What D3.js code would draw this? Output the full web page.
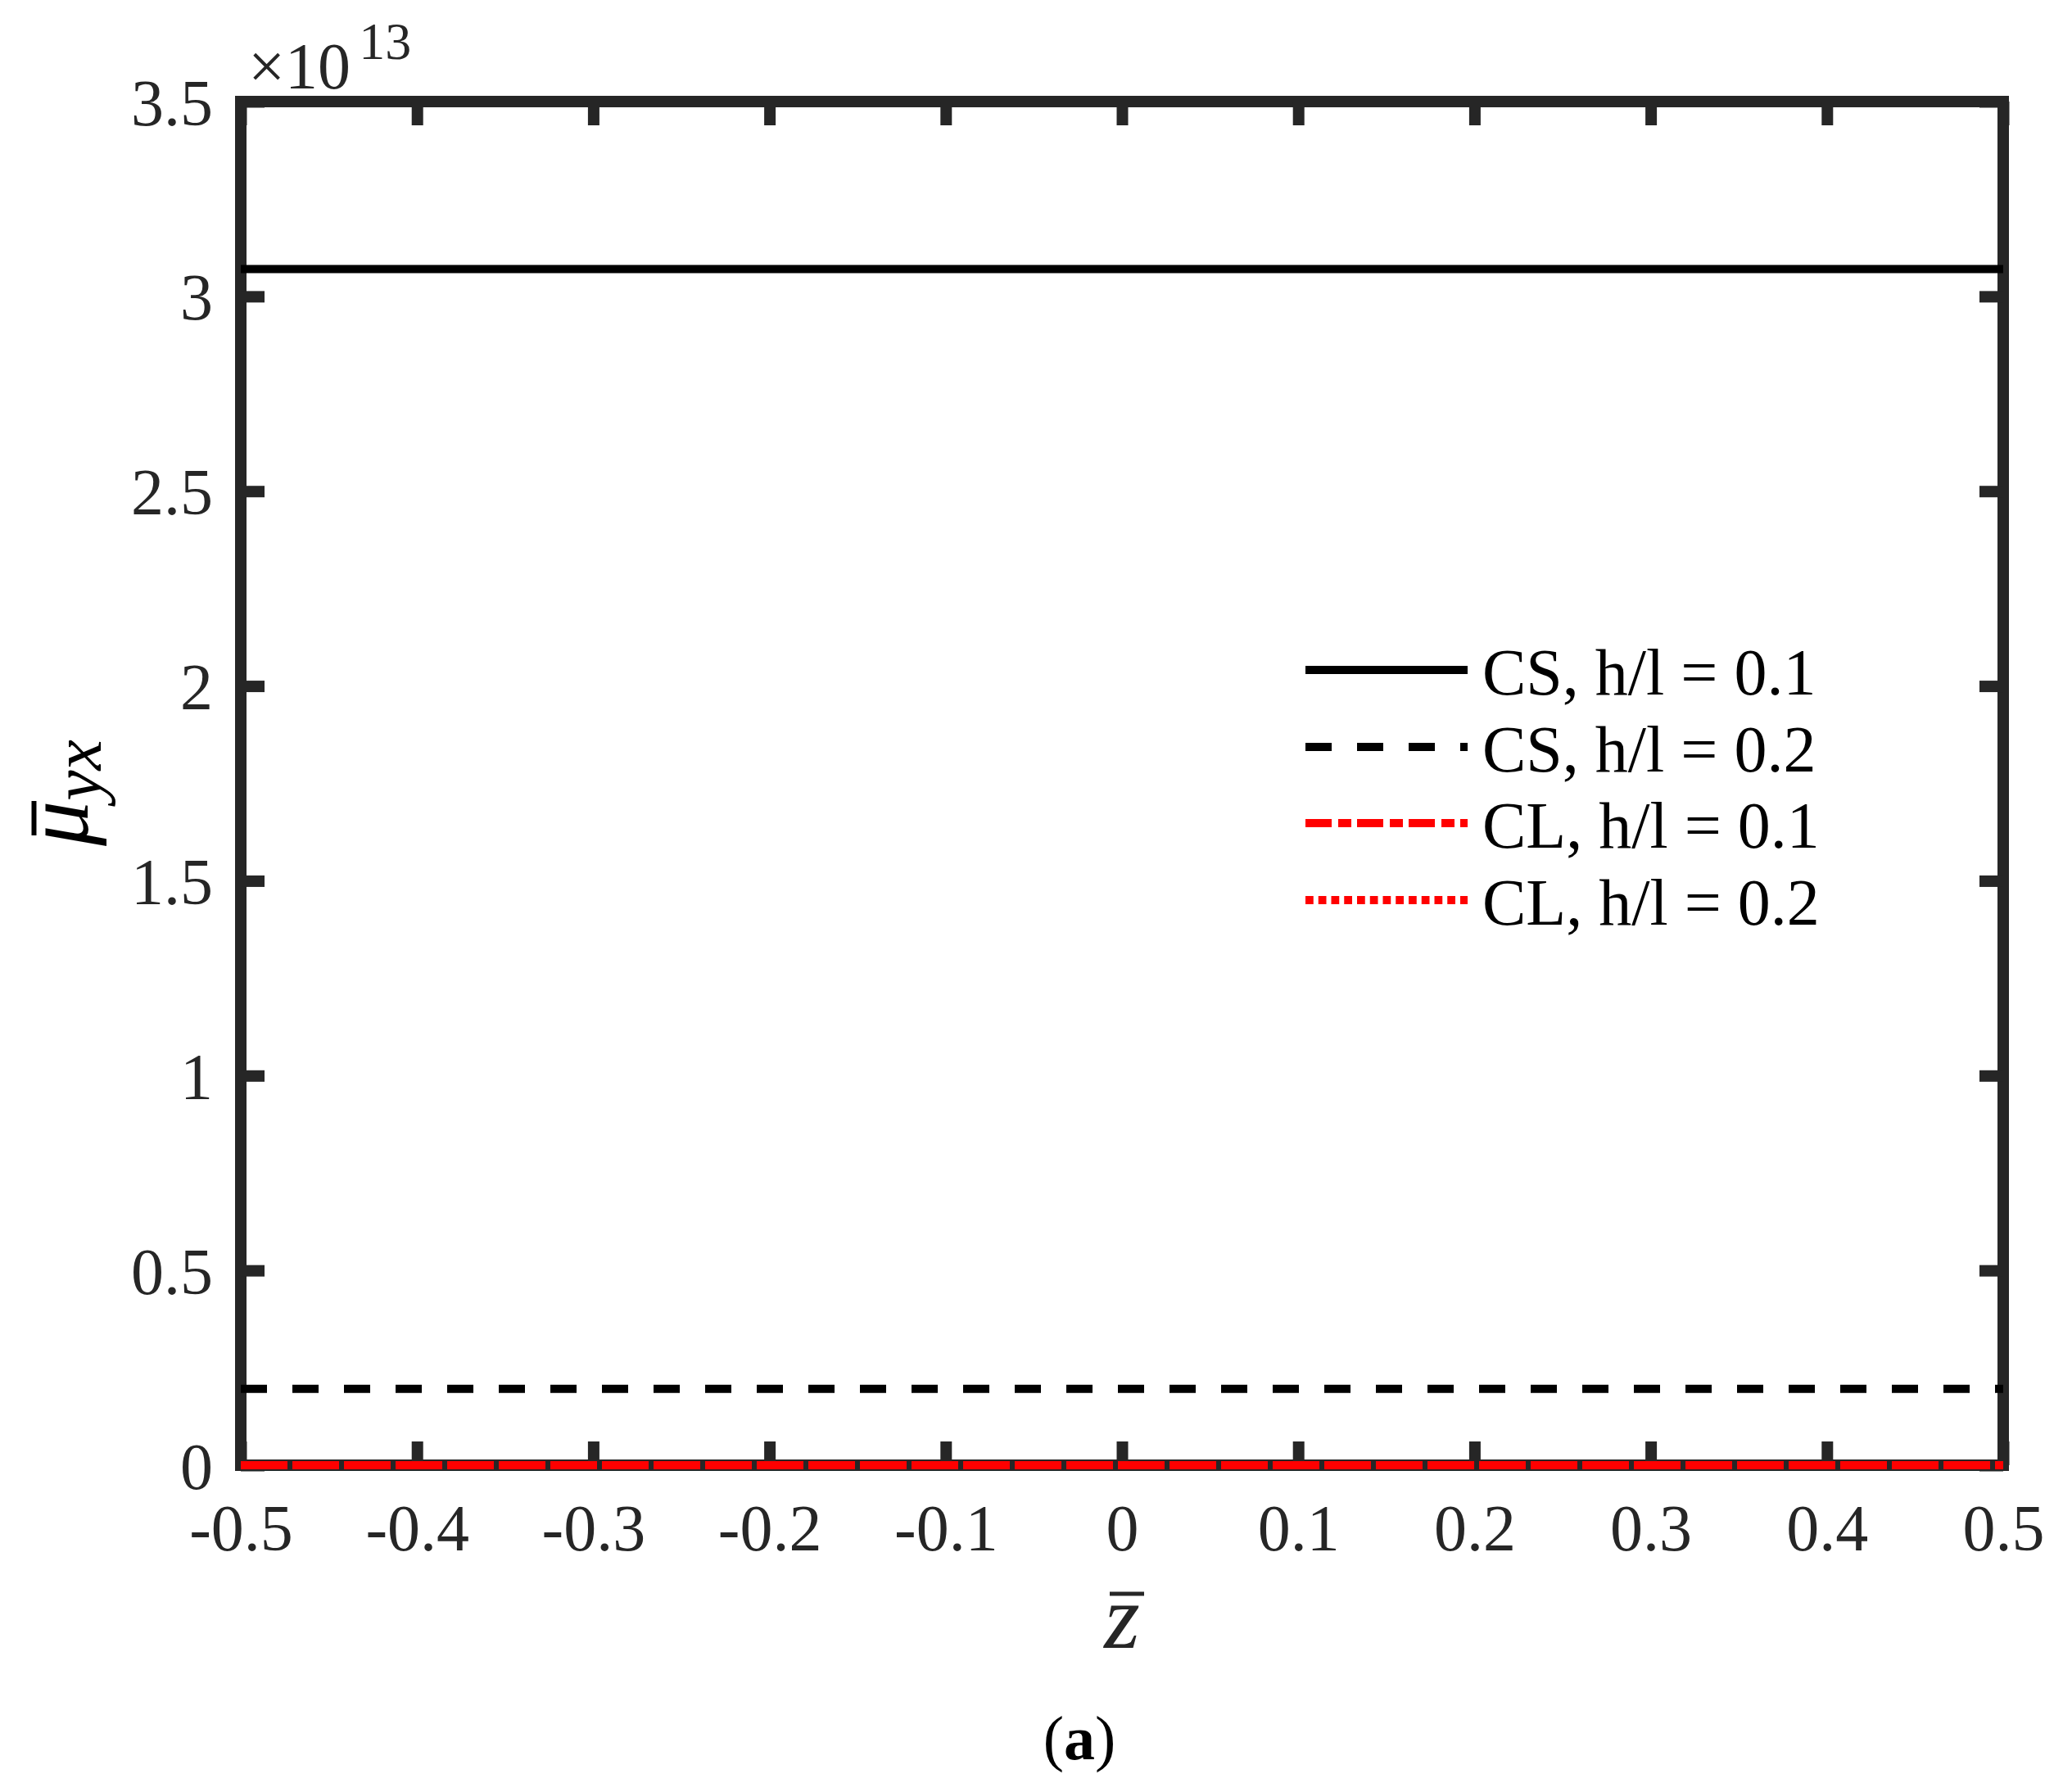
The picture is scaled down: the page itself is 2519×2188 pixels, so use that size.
<!DOCTYPE html>
<html>
<head>
<meta charset="utf-8">
<script src="https://cdn.jsdelivr.net/npm/d3@7"></script>
<style>
  html, body { margin: 0; padding: 0; background: #fff; }
  svg { display: block; }
  text { font-family: "Liberation Serif", "Times New Roman", serif; }
</style>
</head>
<body>
<script>
// ---- data ----
const zValues = [-0.5, -0.4, -0.3, -0.2, -0.1, 0, 0.1, 0.2, 0.3, 0.4, 0.5];
const csH01 = [3.07, 3.07, 3.07, 3.07, 3.07, 3.07, 3.07, 3.07, 3.07, 3.07, 3.07]; // x 1e13
const csH02 = [0.196, 0.196, 0.196, 0.196, 0.196, 0.196, 0.196, 0.196, 0.196, 0.196, 0.196];
const clH01 = [0, 0, 0, 0, 0, 0, 0, 0, 0, 0, 0];
const clH02 = [0, 0, 0, 0, 0, 0, 0, 0, 0, 0, 0];
const seriesNames = ["CS, h/l = 0.1", "CS, h/l = 0.2", "CL, h/l = 0.1", "CL, h/l = 0.2"];
const xTickValues = [-0.5, -0.4, -0.3, -0.2, -0.1, 0, 0.1, 0.2, 0.3, 0.4, 0.5];
const xTickLabels = ["-0.5", "-0.4", "-0.3", "-0.2", "-0.1", "0", "0.1", "0.2", "0.3", "0.4", "0.5"];
const yTickValues = [0, 0.5, 1, 1.5, 2, 2.5, 3, 3.5];
const yTickLabels = ["0", "0.5", "1", "1.5", "2", "2.5", "3", "3.5"];
const exponentLabel = "13";

// ---- styles ----
const seriesStyles = [
  { color: "#000000", dash: null },
  { color: "#000000", dash: "32,31" },
  { color: "#ff0000", dash: "32,8,16,7" },
  { color: "#ff0000", dash: "9.75,6" }
];
const axisColor = "#262626";

const W = 2519, H = 2188;
const L = 294, R = 2446, T = 124, B = 1789;

const svg = d3.select("body").append("svg").attr("width", W).attr("height", H);

const x = d3.scaleLinear().domain([-0.5, 0.5]).range([L, R]);
const y = d3.scaleLinear().domain([0, 3.5]).range([B, T]);

// box
svg.append("rect")
  .attr("x", L).attr("y", T).attr("width", R - L).attr("height", B - T)
  .attr("fill", "none").attr("stroke", axisColor).attr("stroke-width", 14);

const TICK = 29;
function styleAxis(g) {
  g.select(".domain").remove();
  g.selectAll(".tick line").attr("stroke", axisColor).attr("stroke-width", 14);
  g.selectAll(".tick text").attr("fill", axisColor).attr("font-size", 80)
    .attr("font-family", "Liberation Serif, Times New Roman, serif");
}

// bottom
const gB = svg.append("g").attr("transform", `translate(0,${B})`)
  .call(d3.axisBottom(x).tickValues(xTickValues).tickSize(-TICK)
    .tickFormat((d, i) => xTickLabels[i]));
styleAxis(gB);
gB.selectAll(".tick text").attr("y", 104).attr("dy", null);

// top
const gT = svg.append("g").attr("transform", `translate(0,${T})`)
  .call(d3.axisTop(x).tickValues(xTickValues).tickSize(-TICK).tickFormat(""));
styleAxis(gT);

// left
const gL = svg.append("g").attr("transform", `translate(${L},0)`)
  .call(d3.axisLeft(y).tickValues(yTickValues).tickSize(-TICK)
    .tickFormat((d, i) => yTickLabels[i]));
styleAxis(gL);
gL.selectAll(".tick text").attr("x", -34).attr("dy", "0.35em");

// right
const gR = svg.append("g").attr("transform", `translate(${R},0)`)
  .call(d3.axisRight(y).tickValues(yTickValues).tickSize(-TICK).tickFormat(""));
styleAxis(gR);

// exponent
const ex = svg.append("text").attr("x", 303).attr("y", 108)
  .attr("fill", axisColor).attr("font-size", 80);
ex.append("tspan").text("\u00d710");
ex.append("tspan").attr("font-size", 64).attr("dx", 10).attr("dy", -36).text(exponentLabel);

// series lines
const allSeries = [csH01, csH02, clH01, clH02];
const line = d3.line().x((d, i) => x(zValues[i])).y(d => y(d));
// draw in reverse order so first series on top
[3, 2, 1, 0].forEach(k => {
  svg.append("path")
    .datum(allSeries[k])
    .attr("d", line)
    .attr("fill", "none")
    .attr("stroke", seriesStyles[k].color)
    .attr("stroke-width", 10)
    .attr("stroke-dasharray", seriesStyles[k].dash);
});

// legend
const legX1 = 1594, legX2 = 1792, legTextX = 1810;
const legRows = [818, 912, 1005, 1099];
seriesNames.forEach((name, k) => {
  svg.append("line")
    .attr("x1", legX1).attr("x2", legX2)
    .attr("y1", legRows[k]).attr("y2", legRows[k])
    .attr("stroke", seriesStyles[k].color)
    .attr("stroke-width", 10)
    .attr("stroke-dasharray", seriesStyles[k].dash);
  svg.append("text")
    .attr("x", legTextX).attr("y", legRows[k] + 30)
    .attr("font-size", 80).attr("fill", "#000")
    .text(name);
});

// y label: mu-bar_yx (rotated)
const yl = svg.append("g").attr("transform", "translate(107,1033) rotate(-90)");
const ylt = yl.append("text").attr("x", 0).attr("y", 0).attr("fill", "#000")
  .attr("font-style", "italic").attr("font-size", 110);
ylt.append("tspan").text("\u03bc");
ylt.append("tspan").attr("font-size", 84).attr("dy", 16).text("yx");
svg.append("line").attr("x1", 41.5).attr("x2", 41.5).attr("y1", 978).attr("y2", 1020)
  .attr("stroke", "#000").attr("stroke-width", 6);

// x label: z-bar
svg.append("text").attr("x", 1370).attr("y", 2012).attr("text-anchor", "middle")
  .attr("font-style", "italic").attr("font-size", 112).attr("fill", axisColor).text("z");
svg.append("line").attr("x1", 1355).attr("x2", 1397).attr("y1", 1946).attr("y2", 1946)
  .attr("stroke", axisColor).attr("stroke-width", 5);

// caption
const cap = svg.append("text").attr("x", 1318).attr("y", 2148).attr("text-anchor", "middle")
  .attr("font-size", 76).attr("fill", "#000");
cap.append("tspan").text("(");
cap.append("tspan").attr("font-weight", "bold").text("a");
cap.append("tspan").text(")");
</script>
</body>
</html>
